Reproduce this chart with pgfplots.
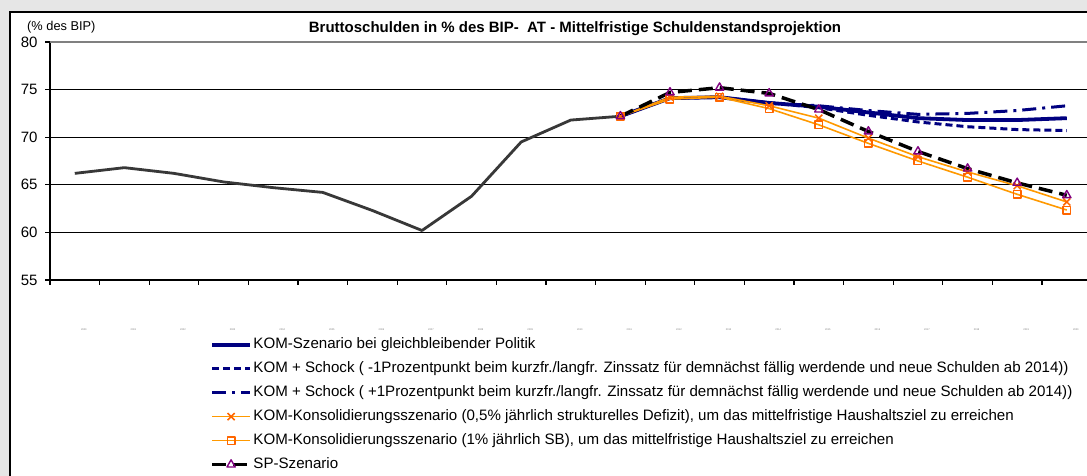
\documentclass[border=0pt]{standalone}
\usepackage{pgfplots}
\pgfplotsset{compat=1.18}
\usepackage{fontspec}
\setmainfont{Liberation Sans}
\definecolor{navyk}{RGB}{0,0,128}
\definecolor{orgline}{RGB}{255,153,0}
\definecolor{orgmark}{RGB}{255,102,0}
\definecolor{spurple}{RGB}{128,0,128}
\definecolor{histgray}{RGB}{56,56,56}
\definecolor{bggray}{RGB}{230,230,230}
\begin{document}
\begin{tikzpicture}[x=1pt,y=1pt]
\useasboundingbox (0,0) rectangle (1087,476);
\clip (0,0) rectangle (1087,476);
\fill[bggray] (0,0) rectangle (1087,476);
\fill[white] (10,-10) rectangle (1100,464);
\draw[black, line width=1.3pt] (10,-10) -- (10,464) -- (1100,464);
\node[font=\fontsize{15}{17}\selectfont\bfseries] at (575,447) {Bruttoschulden in \% des BIP-\ \ AT - Mittelfristige Schuldenstandsprojektion};
\node[font=\fontsize{12.8}{14}\selectfont, anchor=west, inner sep=0pt] at (27,449) {(\% des BIP)};
\begin{axis}[
  at={(50pt,196pt)}, anchor=south west,
  scale only axis, width=1041.6pt, height=238pt,
  xmin=-0.5, xmax=20.5, ymin=55, ymax=80,
  clip=false,
  axis x line*=bottom, axis y line*=left,
  axis line style={black, line width=1.3pt},
  tick align=outside,
  major tick length=5pt, minor tick length=5pt,
  ytick={55,60,...,80},
  ymajorgrids, major grid style={black, line width=1.1pt},
  y tick style={black, line width=1.3pt},
  xtick={0,...,20},
  xticklabels={2000,2001,2002,2003,2004,2005,2006,2007,2008,2009,2010,2011,2012,2013,2014,2015,2016,2017,2018,2019,2020},
  major x tick style={draw=none},
  minor xtick={-0.5,0.5,...,20.5},
  minor x tick style={black, line width=1.3pt},
  xticklabel style={font=\fontsize{2.5}{3}\selectfont, text=gray, xshift=9pt, yshift=-40pt},
  yticklabel style={font=\fontsize{15}{16}\selectfont, xshift=-4pt},
  /pgf/number format/assume math mode=true,
  legend style={at={(0.1536,-0.234)}, anchor=north west, draw=none, fill=none, inner sep=0pt, row sep=6.5pt,
    font=\fontsize{15.1}{17}\selectfont, nodes={inner sep=1.5pt, text height=11pt, text depth=3.5pt}},
  legend cell align=left,
  legend image code/.code={\draw[mark repeat=2,mark phase=2,#1] plot coordinates {(0pt,0pt) (19pt,0pt) (38pt,0pt)};},
  line join=round,
]
\addplot[histgray, line width=2.8pt, forget plot] coordinates {(0,66.2)(1,66.8)(2,66.2)(3,65.3)(4,64.7)(5,64.2)(6,62.3)(7,60.2)(8,63.8)(9,69.5)(10,71.8)(11,72.2)};
\addplot[navyk, line width=3.8pt] coordinates {(11,72.2)(12,74.1)(13,74.2)(14,73.6)(15,73.2)(16,72.6)(17,72.0)(18,71.8)(19,71.8)(20,72.0)};
\addlegendentry{KOM-Szenario bei gleichbleibender Politik}
\addplot[navyk, line width=3pt, dash pattern=on 7pt off 4pt] coordinates {(11,72.2)(12,74.1)(13,74.2)(14,73.6)(15,73.1)(16,72.3)(17,71.6)(18,71.1)(19,70.8)(20,70.7)};
\addlegendentry{KOM + Schock ( -1Prozentpunkt beim kurzfr./langfr. Zinssatz für demnächst fällig werdende und neue Schulden ab 2014))}
\addplot[navyk, line width=3pt, dash pattern=on 14pt off 6pt on 3pt off 6pt] coordinates {(11,72.2)(12,74.1)(13,74.2)(14,73.6)(15,73.3)(16,72.8)(17,72.4)(18,72.5)(19,72.8)(20,73.3)};
\addlegendentry{KOM + Schock ( +1Prozentpunkt beim kurzfr./langfr. Zinssatz für demnächst fällig werdende und neue Schulden ab 2014))}
\addplot[orgline, line width=1.6pt, mark=x, mark size=5pt, mark options={orgmark, solid, line width=1.5pt}] coordinates {(11,72.2)(12,74.2)(13,74.3)(14,73.3)(15,72.0)(16,69.9)(17,67.95)(18,66.35)(19,64.9)(20,63.2)};
\addlegendentry{KOM-Konsolidierungsszenario (0,5\% jährlich strukturelles Defizit), um das mittelfristige Haushaltsziel zu erreichen}
\addplot[orgline, line width=1.6pt, mark=square, mark size=3.8pt, mark options={orgmark, solid, fill=white, line width=1.4pt}] coordinates {(11,72.2)(12,74.0)(13,74.2)(14,73.0)(15,71.3)(16,69.35)(17,67.5)(18,65.8)(19,64.0)(20,62.35)};
\addlegendentry{KOM-Konsolidierungsszenario (1\% jährlich SB), um das mittelfristige Haushaltsziel zu erreichen}
\addplot[black, line width=3.5pt, dash pattern=on 14pt off 7pt, mark=triangle, mark size=4.8pt, mark options={spurple, solid, line width=1.4pt}] coordinates {(11,72.2)(12,74.7)(13,75.2)(14,74.6)(15,72.9)(16,70.6)(17,68.5)(18,66.7)(19,65.2)(20,63.9)};
\addlegendentry{SP-Szenario}
\draw[gray, line width=2.5pt] (rel axis cs:0,1) -- (rel axis cs:1.02,1);
\end{axis}
\end{tikzpicture}
\end{document}
